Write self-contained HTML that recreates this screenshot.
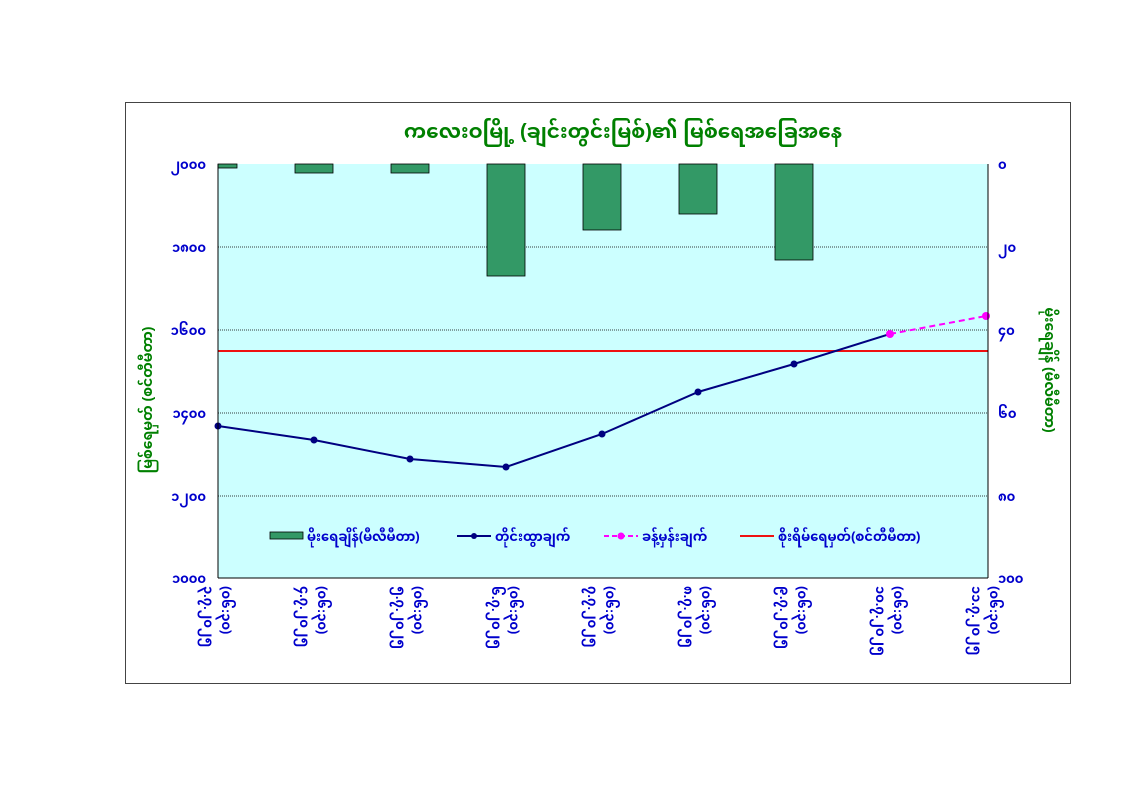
<!DOCTYPE html>
<html><head><meta charset="utf-8"><style>
body{margin:0;background:#fff;width:1123px;height:794px;overflow:hidden;font-family:"Liberation Sans","Noto Sans Myanmar","Padauk",sans-serif;}
</style></head><body>
<svg width="1123" height="794" xmlns="http://www.w3.org/2000/svg" font-family="Liberation Sans, Noto Sans Myanmar, sans-serif">
<rect x="125.5" y="102.5" width="945" height="581" fill="#fff" stroke="#444" stroke-width="1"/>
<rect x="218" y="164" width="770" height="414" fill="#ccffff"/>
<g stroke="#000" stroke-width="0.8" stroke-dasharray="1,1">
<line x1="218" y1="247" x2="988" y2="247"/><line x1="218" y1="330" x2="988" y2="330"/>
<line x1="218" y1="413" x2="988" y2="413"/><line x1="218" y1="496" x2="988" y2="496"/>
</g>
<g fill="#339966" stroke="#000" stroke-width="0.8">
<rect x="218" y="164" width="19" height="4"/>
<rect x="295" y="164" width="38" height="9"/>
<rect x="391" y="164" width="38" height="9"/>
<rect x="487" y="164" width="38" height="112"/>
<rect x="583" y="164" width="38" height="66"/>
<rect x="679" y="164" width="38" height="50"/>
<rect x="775" y="164" width="38" height="96"/>
</g>
<line x1="218" y1="351" x2="988" y2="351" stroke="#ee1111" stroke-width="2"/>
<polyline points="218,426 314,440 410,459 506,467 602,434 698,392 794,364 890,334" fill="none" stroke="#000080" stroke-width="2"/>
<g fill="#000080">
<circle cx="218" cy="426" r="3.5"/><circle cx="314" cy="440" r="3.5"/><circle cx="410" cy="459" r="3.5"/><circle cx="506" cy="467" r="3.5"/><circle cx="602" cy="434" r="3.5"/><circle cx="698" cy="392" r="3.5"/><circle cx="794" cy="364" r="3.5"/>
</g>
<line x1="890" y1="334" x2="986" y2="316" stroke="#ff00ff" stroke-width="2" stroke-dasharray="6,4"/>
<circle cx="890" cy="334" r="4" fill="#ff00ff"/><circle cx="986" cy="316" r="4" fill="#ff00ff"/>
<g stroke="#000" stroke-width="1">
<line x1="218" y1="164" x2="218" y2="578"/><line x1="988" y1="164" x2="988" y2="578"/>
<line x1="218" y1="578" x2="988" y2="578"/>
</g>
<text x="623" y="138" font-size="20" font-weight="bold" fill="#008000" text-anchor="middle">ကလေးဝမြို့ (ချင်းတွင်းမြစ်)၏ မြစ်ရေအခြေအနေ</text>
<g fill="#0000cc" font-size="13" font-weight="bold" text-anchor="end">
<text x="206" y="169">၂၀၀၀</text><text x="206" y="252">၁၈၀၀</text><text x="206" y="335">၁၆၀၀</text><text x="206" y="418">၁၄၀၀</text><text x="206" y="501">၁၂၀၀</text><text x="206" y="583">၁၀၀၀</text>
</g>
<g fill="#0000cc" font-size="13" font-weight="bold">
<text x="998" y="169">၀</text><text x="998" y="252">၂၀</text><text x="998" y="335">၄၀</text><text x="998" y="418">၆၀</text><text x="998" y="501">၈၀</text><text x="998" y="583">၁၀၀</text>
</g>
<text transform="translate(152,400) rotate(-90)" font-size="14" font-weight="bold" fill="#008000" text-anchor="middle">မြစ်ရေမှတ် (စင်တီမီတာ)</text>
<text transform="translate(1045,370) rotate(90)" font-size="14" font-weight="bold" fill="#008000" text-anchor="middle">မိုးရေချိန် (မီလီမီတာ)</text>
<g fill="#0000cc" font-size="13" font-weight="bold">
<text transform="translate(204,586) rotate(90)">၃.၇.၂၀၂၅</text><text transform="translate(222,586) rotate(90)">(၀၆:၃၀)</text>
<text transform="translate(300,586) rotate(90)">၄.၇.၂၀၂၅</text><text transform="translate(318,586) rotate(90)">(၀၆:၃၀)</text>
<text transform="translate(396,586) rotate(90)">၅.၇.၂၀၂၅</text><text transform="translate(414,586) rotate(90)">(၀၆:၃၀)</text>
<text transform="translate(492,586) rotate(90)">၆.၇.၂၀၂၅</text><text transform="translate(510,586) rotate(90)">(၀၆:၃၀)</text>
<text transform="translate(588,586) rotate(90)">၇.၇.၂၀၂၅</text><text transform="translate(606,586) rotate(90)">(၀၆:၃၀)</text>
<text transform="translate(684,586) rotate(90)">၈.၇.၂၀၂၅</text><text transform="translate(702,586) rotate(90)">(၀၆:၃၀)</text>
<text transform="translate(780,586) rotate(90)">၉.၇.၂၀၂၅</text><text transform="translate(798,586) rotate(90)">(၀၆:၃၀)</text>
<text transform="translate(876,586) rotate(90)">၁၀.၇.၂၀၂၅</text><text transform="translate(894,586) rotate(90)">(၀၆:၃၀)</text>
<text transform="translate(972,586) rotate(90)">၁၁.၇.၂၀၂၅</text><text transform="translate(990,586) rotate(90)">(၀၆:၃၀)</text>
</g>
<rect x="270" y="532" width="33" height="7" fill="#339966" stroke="#000" stroke-width="0.8"/>
<text x="307" y="541" font-size="13" font-weight="bold" fill="#0000cc">မိုးရေချိန်(မီလီမီတာ)</text>
<line x1="457" y1="536" x2="491" y2="536" stroke="#000080" stroke-width="2"/><circle cx="474" cy="536" r="3" fill="#000080"/>
<text x="495" y="541" font-size="13" font-weight="bold" fill="#0000cc">တိုင်းထွာချက်</text>
<line x1="604" y1="536" x2="638" y2="536" stroke="#ff00ff" stroke-width="2" stroke-dasharray="5,3"/><circle cx="621" cy="536" r="3.5" fill="#ff00ff"/>
<text x="642" y="541" font-size="13" font-weight="bold" fill="#0000cc">ခန့်မှန်းချက်</text>
<line x1="740" y1="536" x2="774" y2="536" stroke="#ee1111" stroke-width="2"/>
<text x="778" y="541" font-size="13" font-weight="bold" fill="#0000cc">စိုးရိမ်ရေမှတ်(စင်တီမီတာ)</text>
</svg>
</body></html>
